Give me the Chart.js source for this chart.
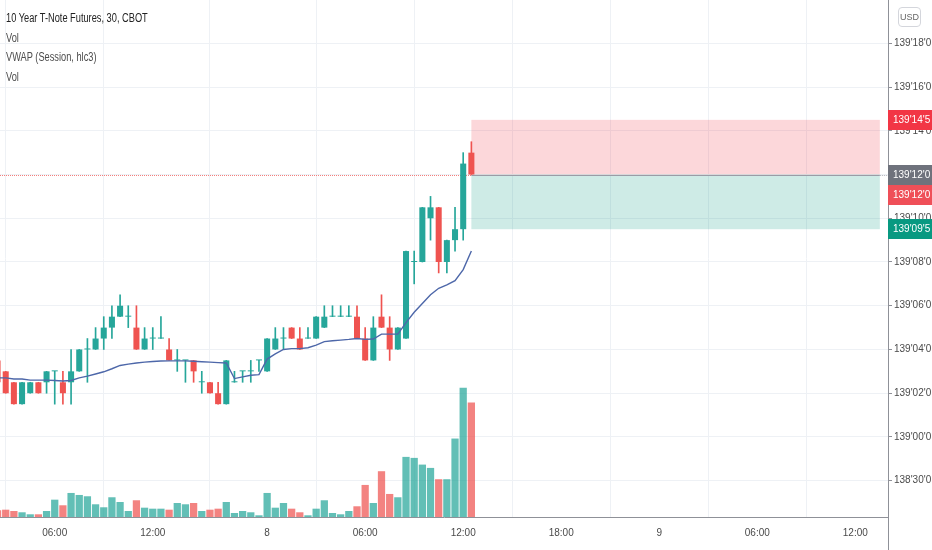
<!DOCTYPE html>
<html lang="en">
  <head>
    <meta charset="UTF-8" />
    <title>10 Year T-Note Futures, 30, CBOT</title>
    <script src="https://cdn.jsdelivr.net/npm/chart.js@4"></script>
    <style>
      html, body { margin: 0; padding: 0; background: #fff; }
      #wrap { position: relative; width: 932px; height: 550px; }
      #legend {
        position: absolute; left: 6px; top: 9px; pointer-events: none;
        font-family: "Liberation Sans", Arial, sans-serif;
        font-size: 12.5px; line-height: 19.6px; color: #4c4c4c;
        transform: scaleX(0.74); transform-origin: left top; white-space: nowrap;
      }
      #legend .title { color: #222; }
      #usd {
        position: absolute; left: 898px; top: 7px; width: 23px; height: 20px;
        border: 1px solid #d4d6dc; border-radius: 4px; box-sizing: border-box;
        font-family: "Liberation Sans", Arial, sans-serif;
        font-size: 9px; line-height: 18px; text-align: center; color: #666;
      }
    </style>
  </head>
  <body>
    <div id="wrap">
      <canvas id="mychart" width="932" height="550"></canvas>
      <div id="legend">
        <div class="title">10 Year T-Note Futures, 30, CBOT</div>
        <div>Vol</div>
        <div>VWAP (Session, hlc3)</div>
        <div>Vol</div>
      </div>
      <div id="usd">USD</div>
    </div>
    <script>
      // prices are in 32nds above 138'00 (e.g. 44 = 139'12'0)
      const opens  = [35.5, 35, 34.5, 33.5, 34, 34.5, 34.5, 35, 34.5, 34.5, 35, 36, 36, 36.5, 37, 37.5, 37.5, 37, 36, 36.5,
                      36.5, 36, 35.5, 35.5, 35.5, 34.5, 34.5, 34, 33.5, 34.5, 35, 35, 35.5, 35, 36, 36.5, 37, 36.5, 36.5, 36.5,
                      37, 37.5, 37.5, 37.5, 37.5, 36.5, 35.5, 37.5, 37, 36, 36.5, 40, 40, 42, 42.5, 40, 41, 41.5, 45];
      const highs  = [35.5, 35, 34.5, 34.5, 34.5, 34.5, 35, 35, 35, 36, 36, 36.5, 37, 37.5, 38, 38.5, 38, 38, 37, 37,
                      37.5, 36.5, 36, 35.5, 35.5, 35, 34.5, 34.5, 35.5, 35, 35, 35.5, 35.5, 36.5, 37, 37, 37, 37, 37, 37.5,
                      38, 38, 38, 38, 38, 37, 37.5, 38.5, 37.5, 37, 40.5, 40.5, 42.5, 43, 42.5, 41, 42.5, 45, 45.5];
      const lows   = [34.5, 34, 33.5, 33.5, 34, 34, 34, 33.5, 33.5, 33.5, 35, 34.5, 36, 36, 36.5, 37.5, 37, 36, 36, 36,
                      36.5, 35.5, 35, 34.5, 34.5, 34, 34, 33.5, 33.5, 34.5, 34.5, 34.5, 35, 35, 36, 36, 36.5, 36, 36.5, 36.5,
                      37, 37.5, 37.5, 37.5, 36.5, 35.5, 35.5, 37, 35.5, 36, 36.5, 39, 40, 41, 39.5, 39.5, 40.5, 41, 44];
      const closes = [34.5, 34, 33.5, 34.5, 34.5, 34, 35, 35, 34, 35, 36, 36, 36.5, 37, 37.5, 38, 37.5, 36, 36.5, 36.5,
                      36.5, 35.5, 35.5, 35.5, 35, 34.5, 34, 33.5, 35.5, 34.5, 35, 35, 35.5, 36.5, 36.5, 36.5, 36.5, 36, 36.5, 37.5,
                      37.5, 37.5, 37.5, 37.5, 36.5, 35.5, 37, 37, 36, 37, 40.5, 40, 42.5, 42.5, 40, 41, 41.5, 44.5, 44];
      // volume in thousands of contracts
      const volumes = [6.7, 7.3, 6, 4.7, 2.7, 2.7, 6, 17.3, 11.7, 24, 22, 20.7, 12.7, 9.7, 19.7, 15, 6, 16.7, 9.3, 8.3,
                       8.3, 7.3, 14, 12.7, 14, 6, 7.3, 8.3, 15, 4, 6, 4.7, 1.7, 24, 9.3, 14, 8.3, 4.7, 1.7, 8.3,
                       16.7, 4, 2.7, 6, 10.7, 32, 14, 45.7, 23, 19.7, 60, 59, 52.3, 49, 37.7, 37.7, 78.3, 129, 114.3];
      const vwap = [34.7, 34.7, 34.65, 34.65, 34.6, 34.6, 34.6, 34.58, 34.56, 34.58, 34.7, 34.78, 34.88, 34.98, 35.12, 35.27, 35.33, 35.38, 35.42, 35.45,
                    35.47, 35.48, 35.48, 35.48, 35.46, 35.44, 35.42, 35.4, 35.38, 34.67, 34.75, 34.82, 34.85, 35.56, 35.8, 36.0, 36.04, 36.04, 36.08, 36.2,
                    36.36, 36.4, 36.43, 36.46, 36.5, 36.46, 36.48, 36.7, 36.7, 36.7, 37.23, 37.7, 38.1, 38.5, 38.8, 38.95, 39.15, 39.65, 40.5];

      // bar slots for the time axis (30 min bars, future slots to the right)
      const timeTickIndex  = [7, 19, 33, 45, 57, 69, 81, 93, 105];
      const timeTickLabels = ["06:00", "12:00", "8", "06:00", "12:00", "18:00", "9", "06:00", "12:00"];
      const priceTicks = [30, 32, 34, 36, 38, 40, 42, 44, 46, 48, 50];

      // short position tool
      const positionStart = 58;
      const positionEnd = 108;
      const stopPrice = 46.5;
      const entryPrice = 44;
      const targetPrice = 41.5;

      const FONT = '"Liberation Sans", Arial, sans-serif';
      const UP = "#26a69a";
      const DOWN = "#ef5350";

      function fmt32(v) {
        const whole = Math.floor(v / 32);
        const rest = v - whole * 32;
        const n = Math.floor(rest);
        const half = rest - n >= 0.5 ? "5" : "0";
        return 138 + whole + "'" + String(n).padStart(2, "0") + "'" + half;
      }

      const idx = opens.map((_, i) => i);
      const isUp = idx.map((i) => closes[i] >= opens[i]);

      function tag(ctx, left, width, y, text, bg) {
        ctx.fillStyle = bg;
        ctx.fillRect(left, Math.round(y - 10), width, 20);
        ctx.fillStyle = "#fff";
        ctx.font = "10px " + FONT;
        ctx.textAlign = "left";
        ctx.textBaseline = "middle";
        ctx.fillText(text, left + 5, y + 0.5);
      }

      const positionPlugin = {
        id: "position",
        beforeDatasetsDraw(chart) {
          const { ctx, chartArea, scales } = chart;
          const x0 = scales.x.getPixelForValue(positionStart);
          const x1 = scales.x.getPixelForValue(positionEnd);
          const yStop = scales.y.getPixelForValue(stopPrice);
          const yEntry = scales.y.getPixelForValue(entryPrice);
          const yTarget = scales.y.getPixelForValue(targetPrice);
          const yLast = Math.round(scales.y.getPixelForValue(closes[closes.length - 1])) + 0.5;
          ctx.save();
          ctx.fillStyle = "rgba(242, 54, 69, 0.2)";
          ctx.fillRect(x0, yStop, x1 - x0, yEntry - yStop);
          ctx.fillStyle = "rgba(8, 153, 129, 0.2)";
          ctx.fillRect(x0, yEntry, x1 - x0, yTarget - yEntry);
          ctx.lineWidth = 1;
          ctx.strokeStyle = "#9a9ca6";
          ctx.beginPath();
          ctx.moveTo(x0, Math.round(yEntry) + 0.5);
          ctx.lineTo(x1, Math.round(yEntry) + 0.5);
          ctx.stroke();
          // last price line
          ctx.setLineDash([1, 1]);
          ctx.strokeStyle = "rgba(239, 83, 80, 0.75)";
          ctx.beginPath();
          ctx.moveTo(chartArea.left, yLast);
          ctx.lineTo(x0, yLast);
          ctx.stroke();
          ctx.strokeStyle = "#b0b3bb";
          ctx.beginPath();
          ctx.moveTo(x1, yLast);
          ctx.lineTo(chartArea.right, yLast);
          ctx.stroke();
          ctx.restore();
        },
        afterDraw(chart) {
          const { ctx, chartArea, scales, width, height } = chart;
          const left = chartArea.right;
          const w = width - left;
          ctx.save();
          // price scale separator runs down to the bottom
          ctx.strokeStyle = "#8f9198";
          ctx.lineWidth = 1;
          ctx.beginPath();
          ctx.moveTo(left + 0.5, chartArea.bottom);
          ctx.lineTo(left + 0.5, height);
          ctx.stroke();
          const yLast = scales.y.getPixelForValue(closes[closes.length - 1]);
          tag(ctx, left, w, scales.y.getPixelForValue(stopPrice), fmt32(stopPrice), "#f23645");
          tag(ctx, left, w, scales.y.getPixelForValue(targetPrice), fmt32(targetPrice), "#089981");
          tag(ctx, left, w, yLast, fmt32(closes[closes.length - 1]), "#6f727c");
          tag(ctx, left, w, yLast + 20, fmt32(entryPrice), "#ef4f58");
          ctx.restore();
        },
      };

      window.addEventListener("load", () => {
        const ctx = document.getElementById("mychart").getContext("2d");
        new Chart(ctx, {
          type: "bar",
          data: {
            datasets: [
              {
                type: "line",
                label: "VWAP",
                data: idx.map((i) => ({ x: i, y: vwap[i] })),
                yAxisID: "y",
                borderColor: "#4d67a9",
                borderWidth: 1.4,
                pointRadius: 0,
                tension: 0,
                order: 0,
              },
              {
                label: "Bodies",
                data: idx.map((i) => ({ x: i, y: [opens[i], closes[i]] })),
                yAxisID: "y",
                backgroundColor: idx.map((i) => (isUp[i] ? UP : DOWN)),
                grouped: false,
                categoryPercentage: 1,
                barPercentage: 0.74,
                minBarLength: 1,
                order: 1,
              },
              {
                label: "Wicks",
                data: idx.map((i) => ({ x: i, y: [lows[i], highs[i]] })),
                yAxisID: "y",
                backgroundColor: idx.map((i) => (isUp[i] ? UP : DOWN)),
                grouped: false,
                barThickness: 1,
                order: 2,
              },
              {
                label: "Vol",
                data: idx.map((i) => ({ x: i, y: volumes[i] })),
                yAxisID: "yVol",
                backgroundColor: idx.map((i) => (isUp[i] ? "rgba(38,166,154,0.72)" : "rgba(239,83,80,0.72)")),
                grouped: false,
                categoryPercentage: 1,
                barPercentage: 0.89,
                order: 3,
              },
            ],
          },
          options: {
            responsive: false,
            animation: false,
            layout: { padding: 0 },
            plugins: { legend: { display: false }, tooltip: { enabled: false } },
            scales: {
              x: {
                type: "linear",
                min: 0.3,
                max: 109,
                offset: false,
                grid: { color: "#eef1f5", drawTicks: false },
                border: { color: "#8f9198" },
                ticks: {
                  font: { family: FONT, size: 10 },
                  color: "#4a4a4a",
                  padding: 10,
                  maxRotation: 0,
                  autoSkip: false,
                  callback: (v, i) => timeTickLabels[i],
                },
                afterBuildTicks: (s) => { s.ticks = timeTickIndex.map((v) => ({ value: v })); },
                afterFit: (s) => { s.height = 33; s.paddingLeft = 0; s.paddingRight = 0; },
              },
              y: {
                position: "right",
                min: 28.34,
                max: 51.98,
                grid: { color: "#eef1f5", tickColor: "#8f9198", tickLength: 4 },
                border: { color: "#8f9198" },
                ticks: {
                  font: { family: FONT, size: 10 },
                  color: "#4a4a4a",
                  padding: 2,
                  autoSkip: false,
                  callback: (v) => fmt32(v),
                },
                afterBuildTicks: (s) => { s.ticks = priceTicks.map((v) => ({ value: v })); },
                afterFit: (s) => { s.width = 44; s.paddingTop = 0; s.paddingBottom = 0; },
              },
              yVol: {
                display: false,
                min: 0,
                max: Math.max(...volumes) * 4,
              },
            },
          },
          plugins: [positionPlugin],
        });
      });
    </script>
  </body>
</html>
